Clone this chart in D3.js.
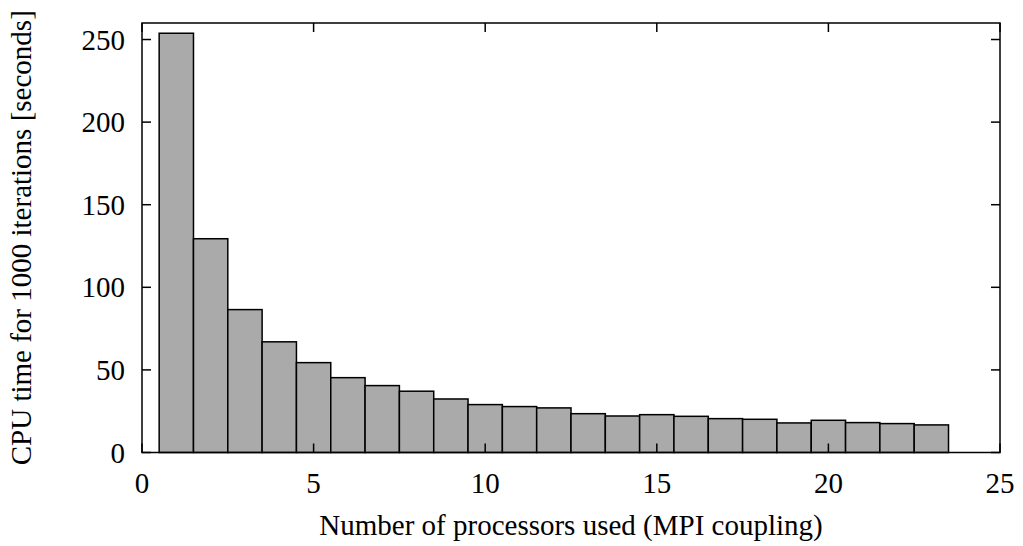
<!DOCTYPE html>
<meta charset="utf-8">
<style>
body { margin: 0; background: #fff; }
text { font-family: "Liberation Serif", "Times New Roman", serif; fill: #000; }
.bar { fill: #aaaaaa; stroke: #000; stroke-width: 1.5px; }
</style>
<body>
<svg width="1023" height="546"></svg>
<script src="https://d3js.org/d3.v7.min.js"></script>
<script>

// processors used, 1..23
var procs = [1, 2, 3, 4, 5, 6, 7, 8, 9, 10, 11, 12, 13, 14, 15, 16, 17, 18, 19, 20, 21, 22, 23];
// cpu time for 1000 iterations (s)
var cpuTime = [253.8, 129.4, 86.5, 67.0, 54.4, 45.3, 40.5, 37.1, 32.4, 29.0, 27.8, 27.0, 23.5,
               22.1, 22.9, 21.9, 20.5, 20.1, 17.9, 19.5, 18.1, 17.5, 16.7];
var xTicks = [0, 5, 10, 15, 20, 25];
var yTicks = [0, 50, 100, 150, 200, 250];

var svg = d3.select("svg"),
    mLeft = 142, mRight = 1000, mTop = 23, mBottom = 452.5;

var x = d3.scaleLinear().domain([0, 25]).range([mLeft, mRight]);
var y = d3.scaleLinear().domain([0, 260]).range([mBottom, mTop]);

var data = procs.map(function(p, i) { return {p: p, t: cpuTime[i]}; });

svg.selectAll(".bar")
    .data(data)
  .enter().append("rect")
    .attr("class", "bar")
    .attr("x", function(d) { return x(d.p - 0.5); })
    .attr("width", function(d) { return x(d.p + 0.5) - x(d.p - 0.5); })
    .attr("y", function(d) { return y(d.t); })
    .attr("height", function(d) { return y(0) - y(d.t); });

var tk = 9;
var axes = svg.append("g").attr("stroke", "#000").attr("stroke-width", 1.5);

// ticks, mirrored on top and right, pointing inward
xTicks.forEach(function(v) {
  axes.append("line").attr("x1", x(v)).attr("x2", x(v)).attr("y1", mBottom).attr("y2", mBottom - tk);
  axes.append("line").attr("x1", x(v)).attr("x2", x(v)).attr("y1", mTop).attr("y2", mTop + tk);
});
yTicks.forEach(function(v) {
  axes.append("line").attr("x1", mLeft).attr("x2", mLeft + tk).attr("y1", y(v)).attr("y2", y(v));
  axes.append("line").attr("x1", mRight).attr("x2", mRight - tk).attr("y1", y(v)).attr("y2", y(v));
});

axes.append("rect")
    .attr("x", mLeft).attr("y", mTop)
    .attr("width", mRight - mLeft).attr("height", mBottom - mTop)
    .attr("fill", "none");

svg.selectAll(".xl")
    .data(xTicks)
  .enter().append("text")
    .attr("x", function(d) { return x(d); })
    .attr("y", 493)
    .attr("text-anchor", "middle")
    .style("font-size", "29px")
    .text(function(d) { return d; });

svg.selectAll(".yl")
    .data(yTicks)
  .enter().append("text")
    .attr("x", 125)
    .attr("y", function(d) { return y(d) + 10; })
    .attr("text-anchor", "end")
    .style("font-size", "29px")
    .text(function(d) { return d; });

svg.append("text")
    .attr("x", (mLeft + mRight) / 2)
    .attr("y", 535)
    .attr("text-anchor", "middle")
    .style("font-size", "29px")
    .text("Number of processors used (MPI coupling)");

svg.append("text")
    .attr("transform", "translate(31," + (mTop + mBottom) / 2 + ") rotate(-90)")
    .attr("text-anchor", "middle")
    .style("font-size", "29px")
    .text("CPU time for 1000 iterations [seconds]");

</script>
</body>
